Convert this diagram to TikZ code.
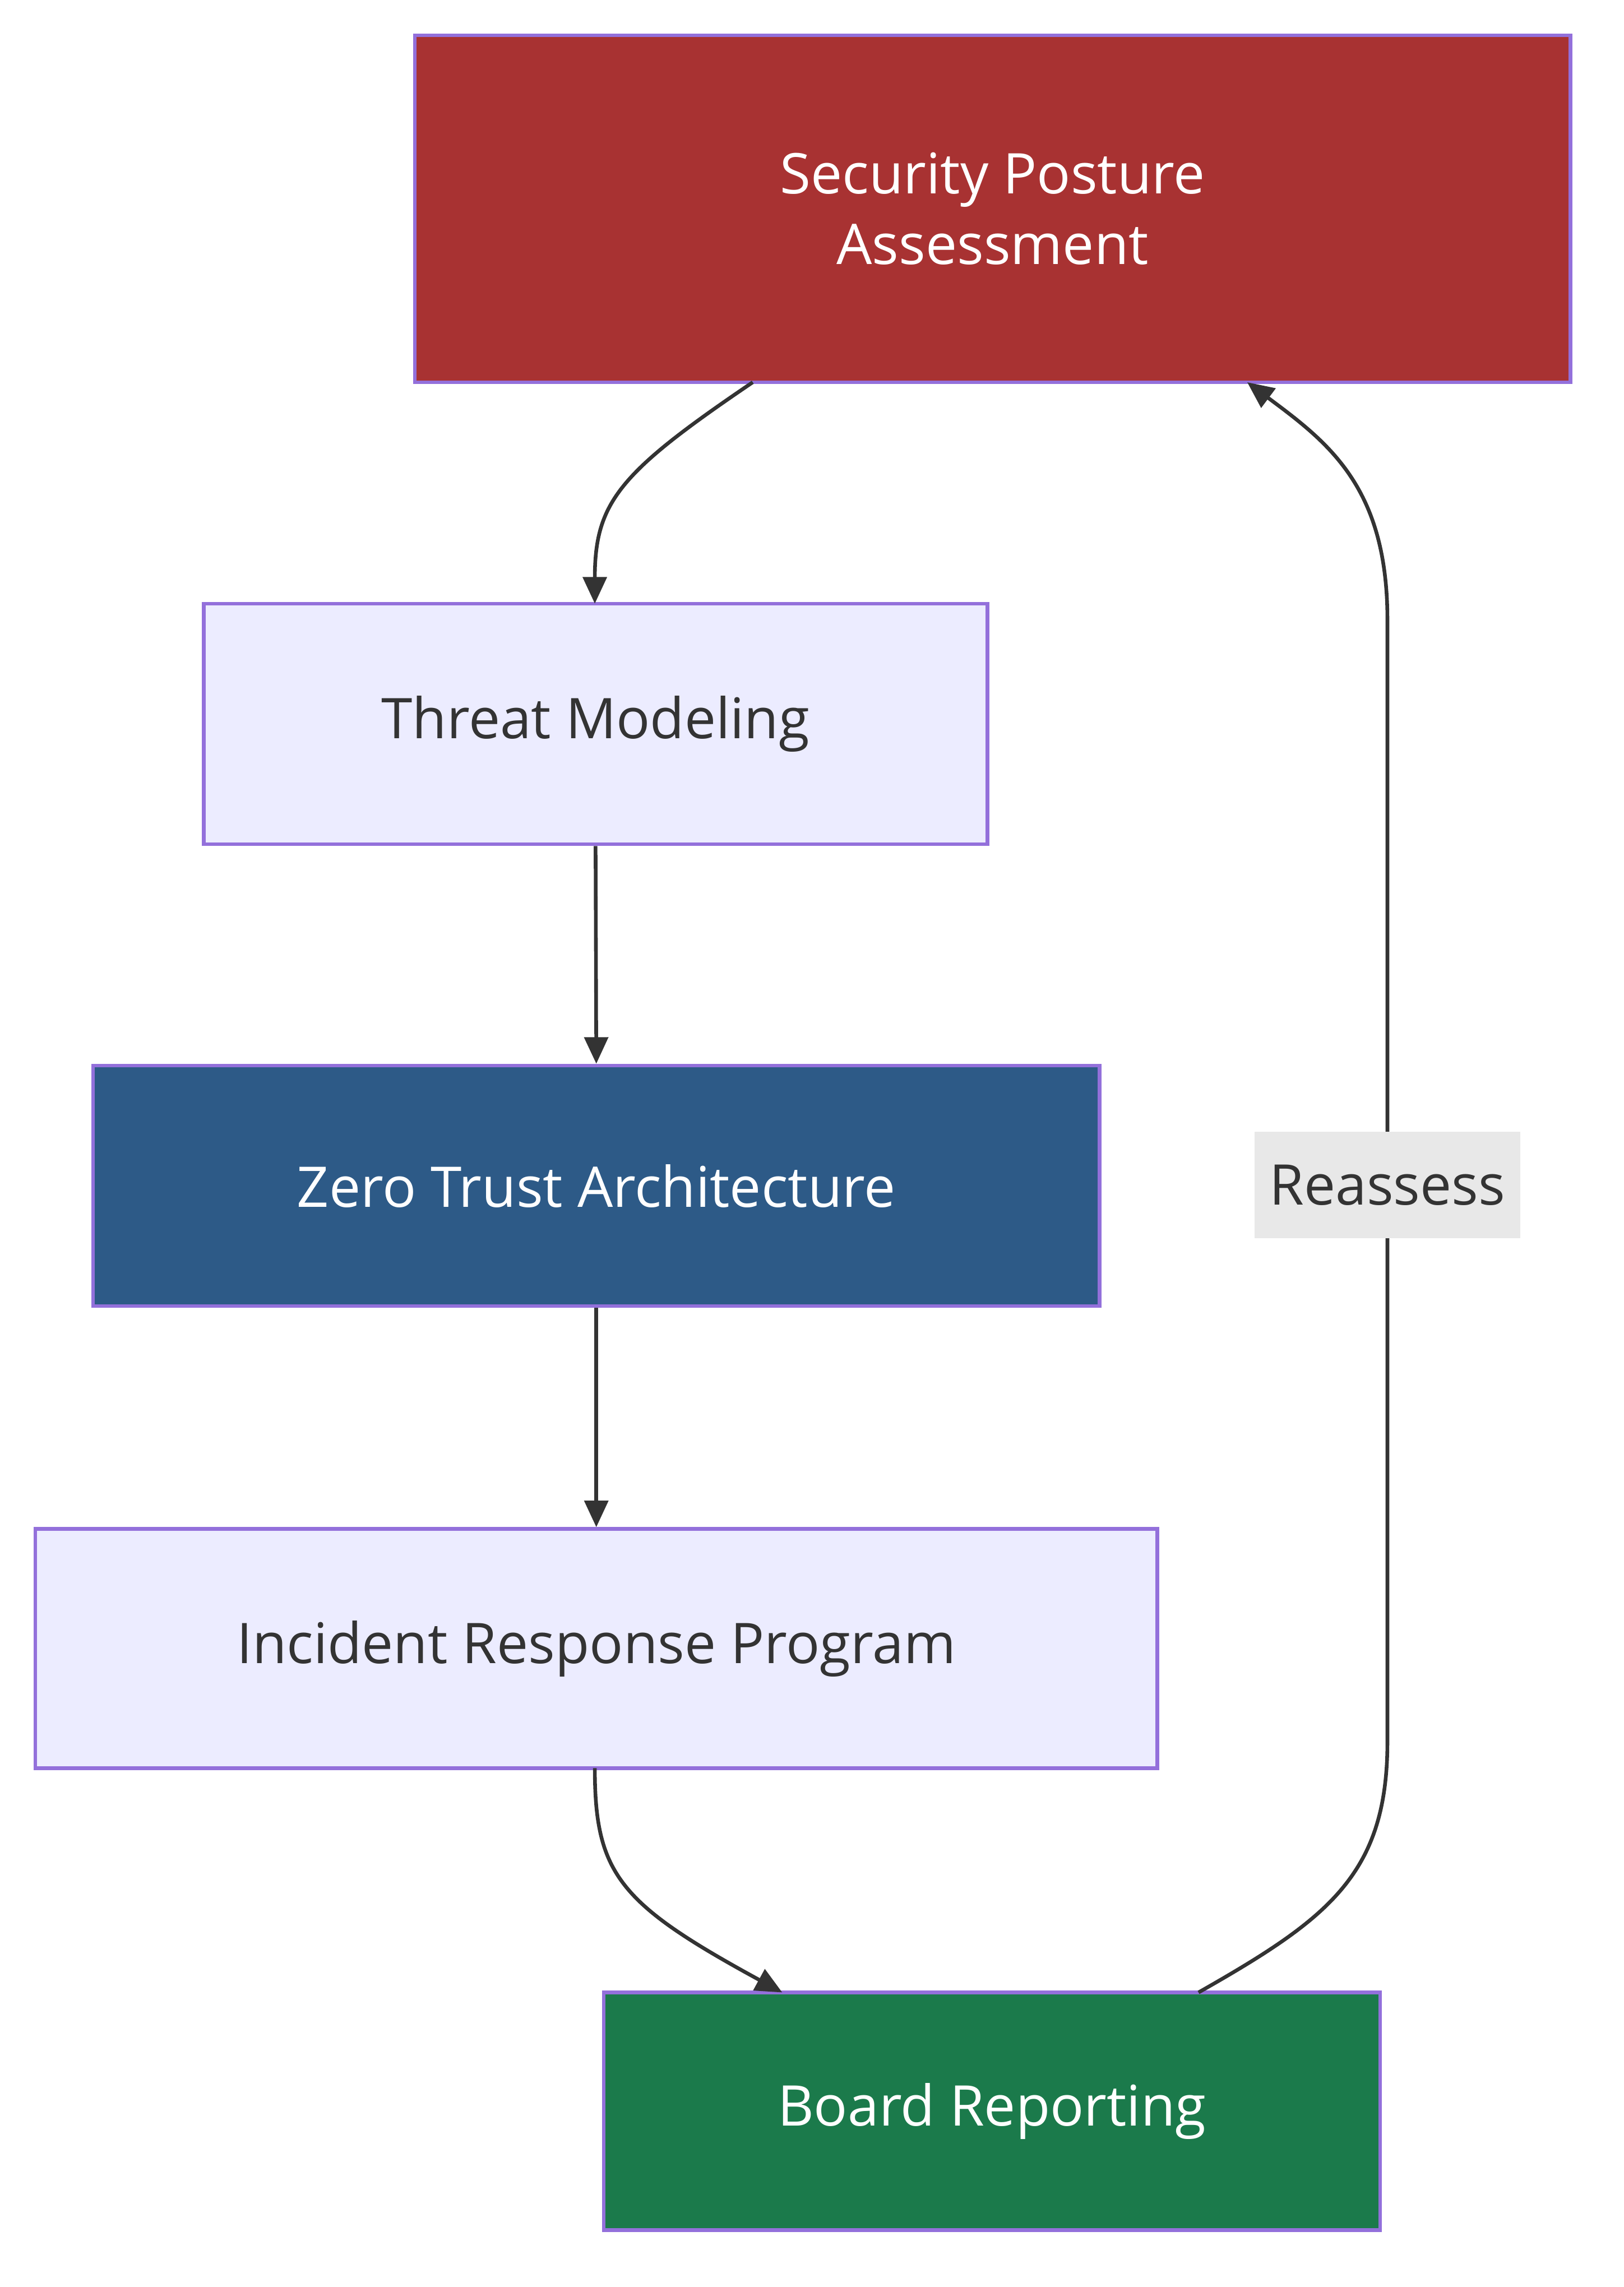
\documentclass[tikz,border=0pt]{standalone}
\usepackage{fontspec}
\setmainfont{Open Sans}
\usetikzlibrary{arrows.meta}
\definecolor{bord}{HTML}{9370DB}
\definecolor{lav}{HTML}{ECECFF}
\definecolor{redf}{HTML}{A83232}
\definecolor{bluef}{HTML}{2D5A87}
\definecolor{greenf}{HTML}{1B7A4B}
\definecolor{txt}{HTML}{333333}
\definecolor{lbl}{HTML}{E8E8E8}
\begin{document}
\begin{tikzpicture}[x=1pt,y=-1pt,
  box/.style={draw=bord,line width=2.5pt,inner sep=0pt,font=\fontsize{38}{48}\selectfont,align=center},
  light/.style={box,fill=lav,text=txt},
  arr/.style={draw=txt,line width=2.5pt,-{Triangle[length=18pt,width=16pt]}}]
\useasboundingbox (0,0) rectangle (1100,1549.6);
\node[box,fill=redf,text=white,minimum width=783pt,minimum height=235pt] (spa) at (672.5,141.5) {Security Posture\\Assessment};
\node[light,minimum width=531pt,minimum height=163pt] (tm) at (403.5,490.5) {Threat Modeling};
\node[box,fill=bluef,text=white,minimum width=682pt,minimum height=163pt] (zt) at (404,803.5) {Zero Trust Architecture};
\node[light,minimum width=760pt,minimum height=162pt] (ir) at (404,1117) {Incident Response Program};
\node[box,fill=greenf,text=white,minimum width=526pt,minimum height=161pt] (br) at (672,1430.5) {Board Reporting};
\coordinate (a1) at (510,259);
\coordinate (a2) at (403,409);
\draw[arr] (a1) .. controls (420,320) and (403,340) .. (a2);
\draw[arr] (tm.south) -- (zt.north);
\draw[arr] (zt.south) -- (ir.north);
\coordinate (b1) at (403,1198);
\coordinate (b2) at (530,1350);
\draw[arr] (b1) .. controls (403,1270) and (420,1290) .. (b2);
\coordinate (c1) at (812,1350);
\coordinate (c2) at (940,1180);
\coordinate (c3) at (940,420);
\coordinate (c4) at (845,259);
\draw[arr] (c1) .. controls (900,1300) and (940,1270) .. (c2) -- (c3) .. controls (940,330) and (900,300) .. (c4);
\node[fill=lbl,text=txt,inner sep=2pt,minimum width=180pt,minimum height=72pt,font=\fontsize{38}{48}\selectfont] (lab) at (940,803) {Reassess};
\end{tikzpicture}
\end{document}
